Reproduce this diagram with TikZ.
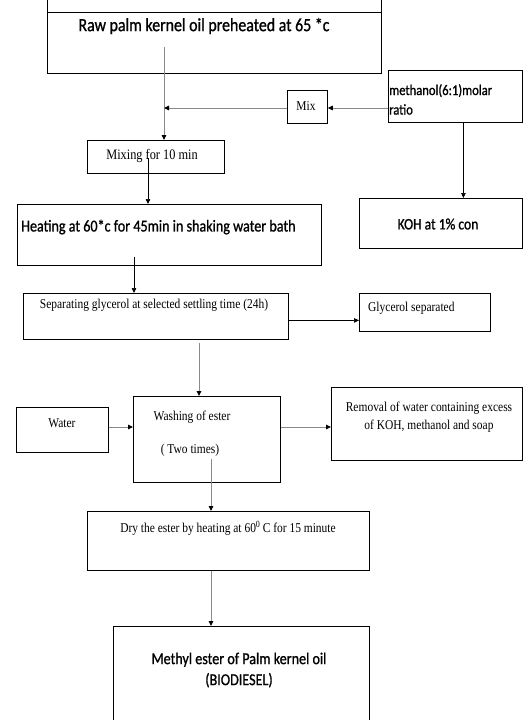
\documentclass[tikz,border=0pt]{standalone}
\usepackage{fontspec}
\usepackage{tikz}
\usetikzlibrary{arrows.meta, positioning}
\newfontfamily\calib[FakeStretch=0.85, FakeBold=1]{Carlito}
\newfontfamily\tnr[FakeStretch=0.85]{Liberation Serif}
\definecolor{lineGray}{HTML}{8A8A8A}

\begin{document}
\begin{tikzpicture}[
  x=1pt, y=-1pt,
  box/.style={draw=black, line width=0.8pt, anchor=north west, inner sep=0pt},
  sanstxt/.style={font=\calib\fontsize{16.6}{19}\selectfont, inner sep=0pt},
  sertxt/.style={font=\tnr\fontsize{13.5}{15.5}\selectfont, inner sep=0pt},
  flow/.style={draw=black, line width=0.7pt, -{Triangle[length=5pt, width=4.5pt]}},
  gflow/.style={draw=lineGray, line width=0.9pt, -{Triangle[length=5pt, width=4.5pt, color=black]}},
]
\useasboundingbox (0,0) rectangle (523,720);
\clip (0,0) rectangle (523,720);

% Boxes
\node[box, minimum width=334, minimum height=61] (raw) at (47,12) {};
\node[box, minimum width=40, minimum height=33] (mix) at (287,90) {};
\node[box, minimum width=134, minimum height=52] (methanol) at (388,70) {};
\node[box, minimum width=137, minimum height=33] (mixing) at (87,140) {};
\node[box, minimum width=304, minimum height=61] (heating) at (17,204) {};
\node[box, minimum width=163, minimum height=50] (koh) at (359,198) {};
\node[box, minimum width=265, minimum height=46] (separating) at (23,293) {};
\node[box, minimum width=131, minimum height=38] (glycerol) at (359,293) {};
\node[box, minimum width=92, minimum height=45] (water) at (16,407) {};
\node[box, minimum width=147, minimum height=86] (washing) at (133,396) {};
\node[box, minimum width=191, minimum height=73] (removal) at (331,387) {};
\node[box, minimum width=282, minimum height=59] (dry) at (87,511) {};
\node[box, minimum width=256, minimum height=110] (methyl) at (113,626) {};
\draw[line width=0.8pt] (raw.north west) -- ++(0,-12);
\draw[line width=0.8pt] (raw.north east) -- ++(0,-12);

% Texts
\node[sanstxt, font=\calib\fontsize{18.7}{21}\selectfont] (rawtxt) at (204,26) {Raw palm kernel oil preheated at 65 *c};
\node[sertxt] (mixtxt) at (306,106) {Mix};
\node[sanstxt, font=\calib\fontsize{14.8}{19.5}\selectfont, align=left, anchor=north west] (methtxt) at (389,84) {methanol(6:1)molar\\ratio};
\node[sertxt, font=\tnr\fontsize{14.5}{16}\selectfont] (mixingtxt) at (152,156) {Mixing for 10 min};
\node[sanstxt, anchor=west] (heattxt) at (21,227) {Heating at 60*c for 45min in shaking water bath};
\node[sanstxt, font=\calib\fontsize{16}{18}\selectfont] (kohtxt) at (438,224) {KOH at 1\% con};
\node[sertxt] (septxt) at (154,305) {Separating glycerol at selected settling time (24h)};
\node[sertxt, anchor=west] (glyctxt) at (368,308) {Glycerol separated};
\node[sertxt] (watertxt) at (62,423) {Water};
\node[sertxt] (washtxt) at (192,417) {Washing of ester};
\node[sertxt] (twotxt) at (190,450) {( Two times)};
\node[sertxt, align=center] (remtxt) at (429,417) {Removal of water containing excess\\[3pt]of KOH, methanol and soap};
\node[sertxt] (drytxt) at (228,528) {Dry the ester by heating at 60\textsuperscript{0}\,C for 15 minute};
\node[sanstxt, align=center] (methtxt2) at (239,670) {Methyl ester of Palm kernel oil\\[2pt](BIODIESEL)};

% Connectors
\coordinate (rawout) at (164,47);
\coordinate (mixingout) at (148,158);
\coordinate (heatout) at (134,257);
\coordinate (sepout) at (199,343);
\coordinate (washout) at (211,459);
\draw[gflow] (rawout) -- (rawout |- mixing.north);
\draw[gflow] (methanol.west |- 0,108) -- (mix.east |- 0,108);
\draw[gflow] (mix.west |- 0,108) -- (rawout |- 0,108);
\draw[flow] ([xshift=8pt]methanol.south) -- ([xshift=8pt]methanol.south |- koh.north);
\draw[flow] (mixingout) -- (mixingout |- heating.north);
\draw[flow] (heatout) -- (heatout |- separating.north);
\draw[flow] ([yshift=-4pt]separating.east) -- ([yshift=-4pt]separating.east -| glycerol.west);
\draw[gflow] (sepout) -- (sepout |- washing.north);
\draw[gflow] (water.east |- 0,427) -- (washing.west |- 0,427);
\draw[gflow] (washing.east |- 0,427) -- (removal.west |- 0,427);
\draw[gflow] (washout) -- (washout |- dry.north);
\draw[gflow] (washout |- dry.south) -- (washout |- methyl.north);
\end{tikzpicture}
\end{document}
